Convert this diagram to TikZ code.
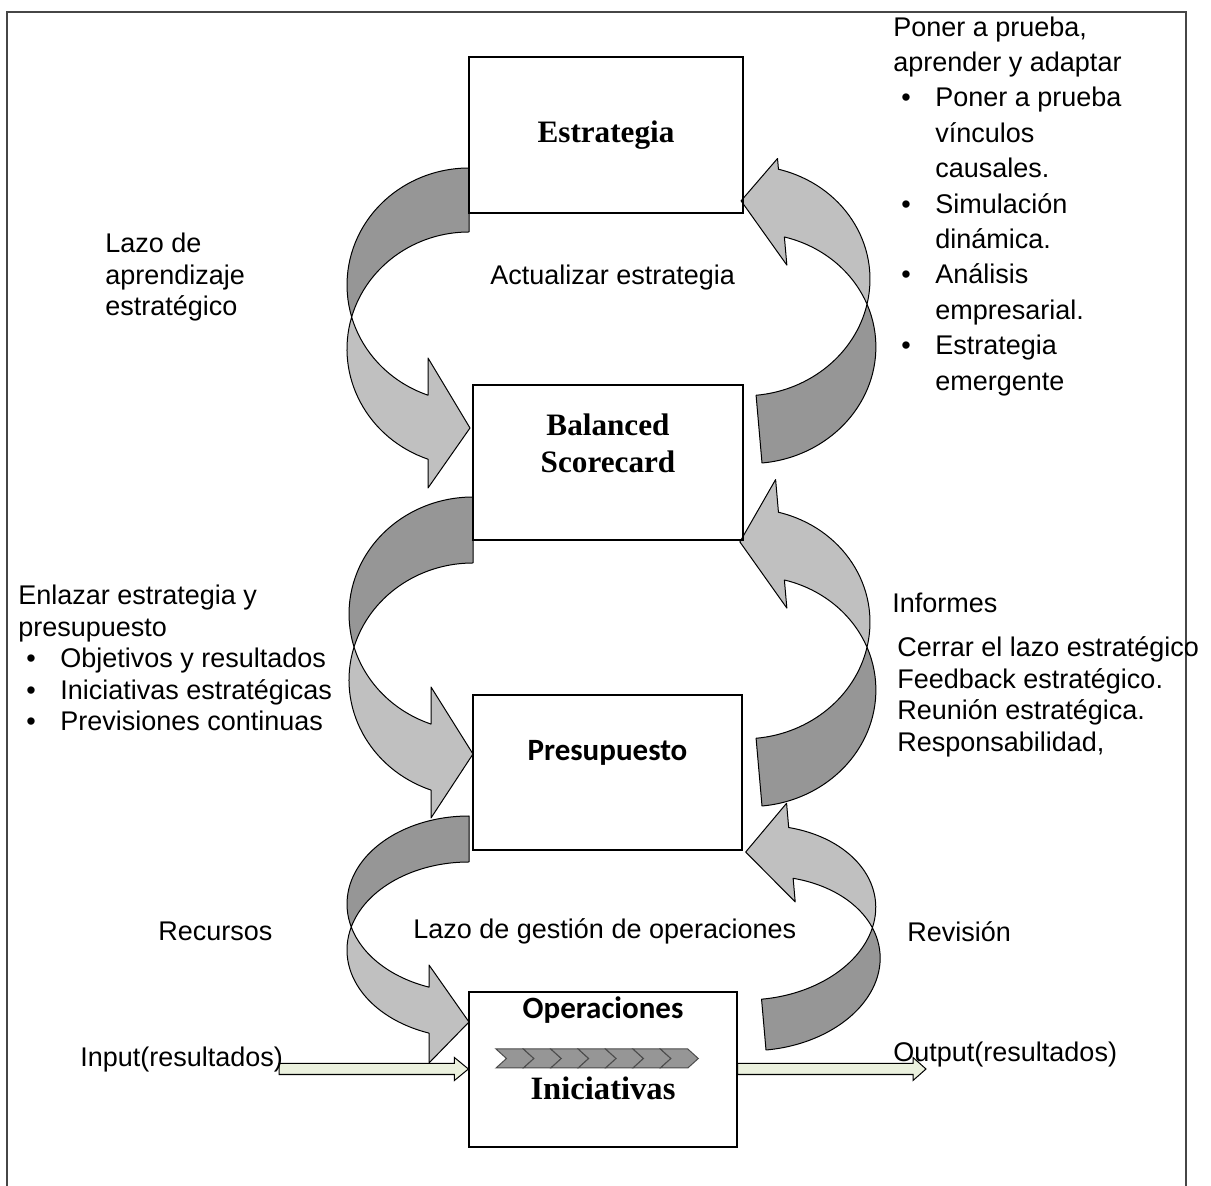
\documentclass[tikz,border=0pt]{standalone}
\usepackage{fontspec}
\setmainfont{Liberation Sans}
\newfontfamily\timesbf{Liberation Serif}
\newfontfamily\calibri{Carlito}
\usetikzlibrary{calc}
\definecolor{cbdark}{RGB}{150,150,150}
\definecolor{cblight}{RGB}{192,192,192}
\definecolor{cbpale}{RGB}{235,241,222}
\definecolor{cbframe}{RGB}{70,70,70}
\tikzset{
  cbox/.style={rectangle, draw=black, line width=0.6pt, inner sep=0pt},
  btxt/.style={font=\timesbf\bfseries\fontsize{15.6}{18.5}\selectfont, align=center},
  ctxt/.style={font=\calibri\bfseries\fontsize{15.5}{18}\selectfont},
  ltxt/.style={font=\fontsize{13.5}{15.8}\selectfont, align=left, anchor=north west, inner sep=0pt},
  stxt/.style={font=\fontsize{13.5}{15.8}\selectfont, anchor=base west, inner sep=0pt},
  lzback/.style={fill=cbdark, draw=black, line width=0.5pt, line join=round},
  lzfront/.style={fill=cblight, draw=black, line width=0.5pt, line join=round},
  parr/.style={fill=cbpale, draw=black, line width=0.5pt},
  chev/.style={fill=cbdark, draw=black!70, line width=0.5pt},
}
\newcommand{\itm}[1]{\hspace*{4pt}\makebox[17pt][l]{•}#1}
\newcommand{\cnt}[1]{\hspace*{21pt}#1}
% curved band arrow: #1 placement, #2 rx, #3 ry, #4 band, #5 head inset, #6/#7 barbs, #8 tip
\newcommand{\lazo}[8]{%
  \begin{scope}[#1]
    \pgfmathsetmacro{\lzal}{asin(#4/(2*#3))}
    \pgfmathsetmacro{\lztb}{acos(-#5/#2)}
    \pgfmathsetmacro{\lzxi}{-#2*cos(\lzal)}
    \pgfmathsetmacro{\lzyn}{#3+#3*sin(\lztb)}
    \filldraw[lzback] (0,0) arc[start angle=-90, end angle={-180-\lzal}, x radius=#2, y radius=#3]
      arc[start angle={180+\lzal}, end angle=270, x radius=#2, y radius=#3] -- cycle;
    \filldraw[lzfront] (\lzxi,{#3+#4/2}) arc[start angle={180+\lzal}, end angle=\lztb, x radius=#2, y radius=#3]
      -- (-#5,#7) -- (#8) -- (-#5,#6) -- (-#5,\lzyn)
      arc[start angle=\lztb, end angle={180-\lzal}, x radius=#2, y radius=#3] -- cycle;
  \end{scope}}

\begin{document}
\begin{tikzpicture}[x=0.5pt, y=-0.5pt]
  \useasboundingbox (0,0) rectangle (1211,1186);
  \draw[cbframe, line width=0.9pt] (7,1186) -- (7,12) -- (1186,12) -- (1186,1186);

  % loops on the left and right
  \lazo{shift={(469,168)}}{122}{117}{64}{41}{190}{320}{1,260}
  \lazo{shift={(473,497)}}{124}{117}{66}{42}{190}{321}{0,257}
  \lazo{shift={(469,816)}}{122}{88}{46}{40}{149}{247}{0,206}
  \lazo{shift={(762,463)}, rotate=185}{124}{115}{68}{42}{195}{302}{-2,263}
  \lazo{shift={(762,806)}, rotate=185}{124}{115}{68}{42}{195}{324}{-1,265}
  \lazo{shift={(766,1050)}, rotate=185}{122}{87}{51}{42}{145}{244}{3,199}

  % boxes
  \node[cbox, minimum width=137pt, minimum height=78pt] (est) at (606,135) {};
  \node[cbox, minimum width=135pt, minimum height=77.5pt] (bsc) at (608,462.5) {};
  \node[cbox, minimum width=134.5pt, minimum height=77.5pt] (pre) at (607.5,772.5) {};
  \node[cbox, minimum width=134pt, minimum height=77.5pt] (ops) at (603,1069.5) {};

  \node[btxt] (estT) at (est.center) {Estrategia};
  \node[btxt] (bscT) at ($(bsc.center)+(0,-19)$) {Balanced\\Scorecard};
  \node[ctxt] (preT) at ($(pre.center)+(0,-20)$) {Presupuesto};
  \node[ctxt] (opsT) at ($(ops.center)+(0,-59)$) {Operaciones};
  \node[btxt, font=\timesbf\bfseries\fontsize{16.3}{18}\selectfont] (iniT) at ($(ops.center)+(0,19)$) {Iniciativas};

  % chevron strip
  \coordinate (chv) at (496,1049);
  \foreach \i in {0,...,6}
    \draw[chev] ($(chv)+(\i*27.4,0)$) -- ++(27.4,0) -- ++(10.5,9.5) -- ++(-10.5,9.5) -- ++(-27.4,0) -- ++(10.5,-9.5) -- cycle;

  % input / output
  \coordinate (inS) at (279,1069);
  \coordinate (outE) at (926,1069);
  \draw[parr] (inS) ++(0,-5.5) -- ($(ops.west|-inS)+(-14,-5.5)$) -- ++(0,-6) -- (ops.west|-inS)
    -- ++(-14,11.5) -- ++(0,-6) -- ($(inS)+(0,5.5)$) -- cycle;
  \draw[parr] ($(ops.east|-outE)+(0,-5.5)$) -- ($(outE)+(-13,-5.5)$) -- ++(0,-6) -- (outE)
    -- ++(-13,11.5) -- ++(0,-6) -- ($(ops.east|-outE)+(0,5.5)$) -- cycle;

  % labels
  \node[ltxt] (lazoA) at (105,230) {\strut Lazo de\\aprendizaje\\estratégico};
  \node[stxt] (actu) at (490,285) {Actualizar estrategia};
  \node[ltxt, font=\fontsize{13.5}{17.7}\selectfont] (prueba) at (893,11) {\strut Poner a prueba,\\aprender y adaptar\\\itm{Poner a prueba}\\\cnt{vínculos}\\\cnt{causales.}\\\itm{Simulación}\\\cnt{dinámica.}\\\itm{Análisis}\\\cnt{empresarial.}\\\itm{Estrategia}\\\cnt{emergente}};
  \node[ltxt] (enlaza) at (18,582) {\strut Enlazar estrategia y\\presupuesto\\\itm{Objetivos y resultados}\\\itm{Iniciativas estratégicas}\\\itm{Previsiones continuas}};
  \node[stxt] (info) at (892,613) {Informes};
  \node[ltxt] (cerrar) at (897,634) {\strut Cerrar el lazo estratégico\\Feedback estratégico.\\Reunión estratégica.\\Responsabilidad,};
  \node[stxt] (recu) at (158,941) {Recursos};
  \node[stxt] (lazoB) at (413,939) {Lazo de gestión de operaciones};
  \node[stxt] (revi) at (907,942) {Revisión};
  \node[stxt] (inp) at (80,1066) {Input(resultados)};
  \node[stxt] (outp) at (893,1061) {Output(resultados)};
\end{tikzpicture}
\end{document}
